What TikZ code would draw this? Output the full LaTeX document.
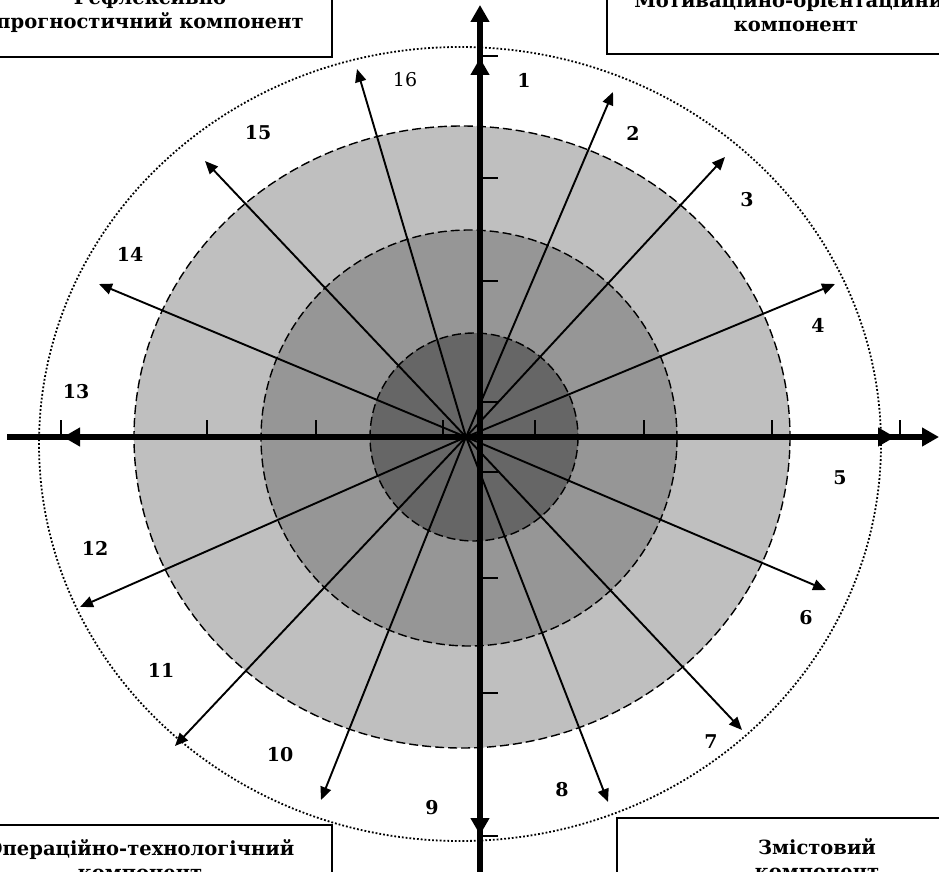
\documentclass[tikz,border=0pt]{standalone}
\usepackage{fontspec}
\setmainfont{DejaVu Serif}
\usetikzlibrary{arrows.meta}
\definecolor{ringlight}{gray}{0.75}
\definecolor{ringmid}{gray}{0.59}
\definecolor{ringdark}{gray}{0.40}
\tikzset{
  ring/.style={draw,line width=1.4pt,dash pattern=on 9pt off 4pt},
  axisline/.style={line width=6pt,-{Triangle[length=17pt,width=18pt]}},
  rayline/.style={line width=1.9pt,-{Triangle[length=13pt,width=11pt]}},
  tickline/.style={line width=1.6pt},
  num/.style={font=\fontsize{19}{22}\selectfont\bfseries},
  compbox/.style={draw,line width=2pt,fill=white,align=center,
    font=\fontsize{19.5}{24}\selectfont\bfseries},
}

\begin{document}
\begin{tikzpicture}[x=1pt,y=-1pt]
	\useasboundingbox (0,0) rectangle (939,872);
	\clip (0,0) rectangle (939,872);
	\newcommand{\ray}[3]{\coordinate (r#1) at (#2,#3);
		\draw[rayline] (o) -- (r#1);}
	\newcommand{\axray}[3]{\coordinate (a#1) at (#2,#3);
		\draw[axisline] (c) -- (a#1);}
	\newcommand{\num}[4][]{\node[num,#1] (n#2) at (#3,#4) {#2};}
	
	% rings
	\draw[line width=1.8pt,dotted] (460,444) ellipse (421 and 397);
	\draw[ring,fill=ringlight] (462,437) ellipse (328 and 311);
	\draw[ring,fill=ringmid] (469,438) circle (208);
	\draw[ring,fill=ringdark] (474,437) circle (104);
	
	% ticks
	\foreach \tx in {61,207,316,443,535,644,772,900}
		\draw[tickline] (\tx,437) -- (\tx,420);
	\foreach \ty in {56,178,281,402,472,578,693,836}
		\draw[tickline] (480,\ty) -- (498,\ty);
	
	% axes
	\coordinate (c) at (480,437);
	\coordinate (o) at (466,437);
	\coordinate (hl) at (7,437);
	\coordinate (hr) at (939,437);
	\coordinate (vb) at (480,872);
	\coordinate (vt) at (480,5);
	\draw[axisline] (hl) -- (hr);
	\draw[axisline] (vb) -- (vt);
	
	\axray{1}{480}{58}
	\axray{5}{895}{437}
	\axray{9}{480}{835}
	\axray{13}{63}{437}
	
	\ray{2}{613}{92}
	\ray{3}{725}{157}
	\ray{4}{835}{284}
	\ray{6}{826}{590}
	\ray{7}{742}{730}
	\ray{8}{608}{802}
	\ray{10}{321}{800}
	\ray{11}{175}{746}
	\ray{12}{80}{607}
	\ray{14}{99}{284}
	\ray{15}{205}{161}
	\ray{16}{357}{69}
	
	% labels
	\num{1}{524}{80}
	\num{2}{633}{133}
	\num{3}{747}{200}
	\num{4}{818}{325}
	\num{5}{840}{478}
	\num{6}{806}{618}
	\num{7}{711}{742}
	\num{8}{562}{790}
	\num{9}{432}{808}
	\num{10}{280}{755}
	\num{11}{161}{670}
	\num{12}{95}{548}
	\num{13}{76}{392}
	\num{14}{130}{254}
	\num{15}{258}{133}
	\num[font=\fontsize{19}{22}\selectfont]{16}{405}{80}
	
	% components
	\node[compbox,minimum width=364pt,minimum height=91pt] (refl) at (150,11.5)
		{Рефлексивно\\прогностичний компонент};
	\node[compbox,minimum width=378pt,minimum height=85pt] (motiv) at (796,11.5)
		{Мотиваційно-орієнтаційний\\компонент};
	\node[compbox,minimum width=384pt,minimum height=70pt] (operat) at (140,860)
		{Операційно-технологічний\\компонент};
	\node[compbox,minimum width=400pt,minimum height=82pt] (zmist) at (817,859)
		{Змістовий\\компонент};
\end{tikzpicture}
\end{document}
